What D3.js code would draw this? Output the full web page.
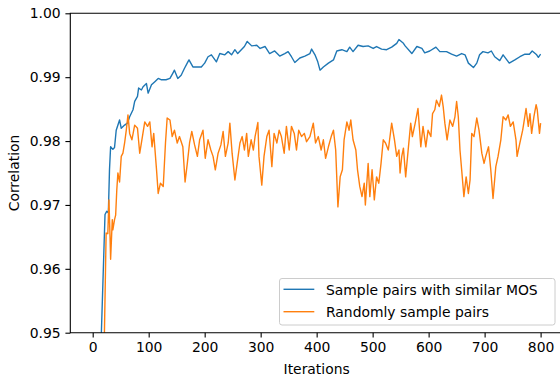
<!DOCTYPE html>
<html>
<head>
<meta charset="utf-8">
<script src="https://cdn.jsdelivr.net/npm/d3@7"></script>
<style>
  body { margin: 0; background: #fff; }
  svg { display: block; font-family: "DejaVu Sans", sans-serif; }
</style>
</head>
<body>
<svg id="chart" width="560" height="380"></svg>
<script>
// series 1: sample pairs with similar MOS
const simIter = [12, 22, 25, 28, 30, 32, 36, 39, 42, 48, 51, 57, 62, 66, 72, 75, 80, 82, 87, 90, 96, 99,
  105, 111, 117, 122, 131, 138, 143, 146, 152, 158, 164, 170, 172, 179, 185, 194, 200, 206, 212, 221,
  227, 236, 242, 248, 254, 259, 271, 276, 284, 293, 299, 308, 316, 325, 334, 343, 349, 355, 361, 370,
  379, 388, 391, 397, 402, 406, 412, 421, 430, 436, 445, 454, 459, 465, 474, 483, 492, 501, 507, 516,
  525, 534, 543, 547, 555, 558, 570, 579, 588, 593, 602, 613, 620, 632, 641, 650, 659, 665, 671, 680,
  686, 691, 697, 706, 712, 718, 727, 733, 744, 754, 763, 772, 780, 785, 793, 796, 800];
const simCorr = [0.940, 0.9685, 0.9690, 0.9688, 0.9755, 0.9791, 0.9787, 0.9790, 0.9817, 0.9833, 0.9820,
  0.9825, 0.9828, 0.9838, 0.9849, 0.9862, 0.9870, 0.9883, 0.9880, 0.9885, 0.9890, 0.9875,
  0.9888, 0.9893, 0.9898, 0.9896, 0.9896, 0.9898, 0.9906, 0.9911, 0.9898, 0.9903, 0.9914, 0.9924,
  0.9927, 0.9916, 0.9916, 0.9916, 0.9922, 0.9932, 0.9935, 0.9924,
  0.9937, 0.9935, 0.9940, 0.9935, 0.9943, 0.9937, 0.9948, 0.9956, 0.9949, 0.9950, 0.9945, 0.9948,
  0.9937, 0.9941, 0.9933, 0.9937, 0.9940, 0.9932, 0.9923, 0.9930,
  0.9933, 0.9937, 0.9944, 0.9935, 0.9924, 0.9911, 0.9916, 0.9922, 0.9927, 0.9941, 0.9943, 0.9940,
  0.9947, 0.9940, 0.9950, 0.9948, 0.9949, 0.9945, 0.9948, 0.9944,
  0.9943, 0.9947, 0.9953, 0.9959, 0.9953, 0.9949, 0.9937, 0.9948, 0.9945, 0.9938, 0.9941, 0.9947,
  0.9940, 0.9940, 0.9936, 0.9933, 0.9937, 0.9935, 0.9922, 0.9915,
  0.9922, 0.9935, 0.9940, 0.9938, 0.9941, 0.9932, 0.9926, 0.9935, 0.9922, 0.9927, 0.9932, 0.9936,
  0.9936, 0.9941, 0.9935, 0.9931, 0.9936];

// series 2: randomly sample pairs
const randIter = [19, 24, 27, 29, 31, 32, 35, 36, 39, 41, 43, 45, 48, 51, 54, 57, 60, 63, 66, 70, 75, 80,
  84, 87, 93, 98, 102, 106, 109, 114, 117, 121, 126, 130, 133, 138, 142, 146, 151, 155, 161, 165, 169,
  173, 177, 182, 187, 191, 197, 201, 206, 211, 215, 219, 224, 229, 233, 237, 242, 245, 249, 254, 258,
  263, 267, 271, 275, 278, 283, 287, 290, 295, 297, 302, 306, 311, 315, 320, 324, 329, 333, 337, 342,
  346, 351, 355, 360, 364, 368, 373, 378, 382, 388, 394, 398, 403, 408, 412, 416, 421, 426, 430, 434,
  438, 442, 446, 449, 454, 458, 461, 465, 470, 473, 477, 481, 485, 487, 492, 495, 499, 503, 507, 511,
  515, 519, 523, 528, 534, 539, 543, 547, 549, 552, 555, 559, 564, 568, 571, 576, 581, 586, 590, 595,
  599, 604, 607, 611, 614, 619, 623, 626, 629, 633, 638, 643, 647, 650, 653, 656, 659, 663, 667, 671,
  674, 677, 681, 686, 690, 695, 699, 702, 707, 711, 715, 720, 724, 729, 733, 738, 742, 746, 751, 756,
  758, 763, 768, 770, 774, 778, 781, 784, 788, 792, 794, 798, 800];
const randCorr = [0.940, 0.9656, 0.9655, 0.9708, 0.9650, 0.9615, 0.9677, 0.9661, 0.9677, 0.9684, 0.9723,
  0.9750, 0.9736, 0.9776, 0.9781, 0.9797, 0.9817, 0.9841, 0.9812, 0.9802, 0.9825, 0.9820,
  0.9781, 0.9797, 0.9830, 0.9823, 0.9830, 0.9791, 0.9812, 0.9755, 0.9718, 0.9734, 0.9729, 0.9797,
  0.9836, 0.9833, 0.9807, 0.9817, 0.9797, 0.9807, 0.9791, 0.9736, 0.9765,
  0.9797, 0.9815, 0.9794, 0.9776, 0.9802, 0.9817, 0.9773, 0.9802, 0.9786, 0.9776, 0.9755, 0.9781,
  0.9794, 0.9815, 0.9776, 0.9797, 0.9828, 0.9781, 0.9739, 0.9765,
  0.9797, 0.9807, 0.9786, 0.9812, 0.9776, 0.9802, 0.9786, 0.9807, 0.9829, 0.9776, 0.9731, 0.9776,
  0.9807, 0.9817, 0.9760, 0.9812, 0.9797, 0.9817, 0.9807, 0.9781,
  0.9823, 0.9786, 0.9823, 0.9812, 0.9786, 0.9817, 0.9807, 0.9812, 0.9799, 0.9807, 0.9828, 0.9797,
  0.9807, 0.9786, 0.9802, 0.9773, 0.9791, 0.9807, 0.9817, 0.9786,
  0.9697, 0.9744, 0.9755, 0.9802, 0.9830, 0.9817, 0.9833, 0.9802, 0.9786, 0.9755, 0.9729, 0.9713,
  0.9734, 0.9700, 0.9765, 0.9713, 0.9755, 0.9708, 0.9744, 0.9734,
  0.9765, 0.9802, 0.9797, 0.9786, 0.9828, 0.9802, 0.9776, 0.9786, 0.9750, 0.9776, 0.9789, 0.9744,
  0.9791, 0.9828, 0.9807, 0.9828, 0.9851, 0.9791, 0.9823, 0.9791,
  0.9817, 0.9807, 0.9843, 0.9849, 0.9864, 0.9854, 0.9872, 0.9854, 0.9828, 0.9802, 0.9833, 0.9823,
  0.9838, 0.9862, 0.9838, 0.9786, 0.9755, 0.9713, 0.9744, 0.9718,
  0.9739, 0.9812, 0.9807, 0.9836, 0.9817, 0.9781, 0.9765, 0.9776, 0.9791, 0.9755, 0.9710, 0.9760,
  0.9776, 0.9802, 0.9838, 0.9833, 0.9841, 0.9823, 0.9830, 0.9802,
  0.9776, 0.9797, 0.9817, 0.9828, 0.9851, 0.9823, 0.9843, 0.9812, 0.9838, 0.9857, 0.9849, 0.9812, 0.9828];

const xTicks = [0, 100, 200, 300, 400, 500, 600, 700, 800];
const yTicks = [0.95, 0.96, 0.97, 0.98, 0.99, 1.00];
const seriesNames = ['Sample pairs with similar MOS', 'Randomly sample pairs'];
const seriesColors = ['#1f77b4', '#ff7f0e'];

const svg = d3.select('#chart');
const margin = { left: 70.3, top: 13.3 };
const width = 492.7;   // right edge falls just outside the picture
const height = 319.4;
const fontSize = 13.9;

const x = d3.scaleLinear().domain([-40, 840]).range([margin.left, margin.left + width]);
const y = d3.scaleLinear().domain([0.95, 1.0]).range([margin.top + height, margin.top]);

svg.append('defs').append('clipPath').attr('id', 'plot-clip')
  .append('rect')
  .attr('x', margin.left).attr('y', margin.top)
  .attr('width', width).attr('height', height);

const series = [
  simIter.map((it, i) => [it, simCorr[i]]),
  randIter.map((it, i) => [it, randCorr[i]])
];

const line = d3.line().x(d => x(d[0])).y(d => y(d[1]));

svg.append('g')
  .attr('clip-path', 'url(#plot-clip)')
  .selectAll('path')
  .data(series)
  .enter().append('path')
    .attr('fill', 'none')
    .attr('stroke', (d, i) => seriesColors[i])
    .attr('stroke-width', 1.4)
    .attr('stroke-linejoin', 'round')
    .attr('d', line);

// axes
const xAxis = svg.append('g')
  .attr('transform', `translate(0,${margin.top + height})`)
  .call(d3.axisBottom(x).tickValues(xTicks).tickSize(4.9).tickPadding(4.5).tickFormat(d3.format('d')));
const yAxis = svg.append('g')
  .attr('transform', `translate(${margin.left},0)`)
  .call(d3.axisLeft(y).tickValues(yTicks).tickSize(4.9).tickPadding(4.8).tickFormat(d3.format('.2f')));

[xAxis, yAxis].forEach(g => {
  g.select('.domain').remove();
  g.selectAll('.tick line').attr('stroke', '#000').attr('stroke-width', 1.1);
  g.selectAll('.tick text')
    .attr('fill', '#000')
    .attr('font-size', fontSize)
    .attr('font-family', '"DejaVu Sans", sans-serif');
});

// spines (left, top, bottom; the right one sits off the picture)
svg.append('path')
  .attr('fill', 'none')
  .attr('stroke', '#000')
  .attr('stroke-width', 1.1)
  .attr('d', `M${margin.left + width},${margin.top}H${margin.left}V${margin.top + height}H${margin.left + width}`);

svg.append('text')
  .attr('x', margin.left + width / 2)
  .attr('y', 374.3)
  .attr('text-anchor', 'middle')
  .attr('font-size', fontSize)
  .text('Iterations');

svg.append('text')
  .attr('transform', `translate(19,${margin.top + height / 2}) rotate(-90)`)
  .attr('text-anchor', 'middle')
  .attr('font-size', fontSize)
  .text('Correlation');

// legend
const legend = svg.append('g').attr('class', 'legend');
legend.append('rect')
  .attr('x', 279.5).attr('y', 278.5)
  .attr('width', 275.5).attr('height', 46.5)
  .attr('rx', 2.5)
  .attr('fill', '#fff').attr('fill-opacity', 0.8)
  .attr('stroke', '#cccccc').attr('stroke-width', 1);

const rows = legend.selectAll('g.row')
  .data(seriesNames)
  .enter().append('g')
    .attr('class', 'row')
    .attr('transform', (d, i) => `translate(0,${289.3 + i * 22.4})`);
rows.append('line')
  .attr('x1', 283.5).attr('x2', 314.3)
  .attr('stroke', (d, i) => seriesColors[i])
  .attr('stroke-width', 1.4);
rows.append('text')
  .attr('x', 326)
  .attr('y', 5.6)
  .attr('font-size', fontSize)
  .text(d => d);
</script>
</body>
</html>
